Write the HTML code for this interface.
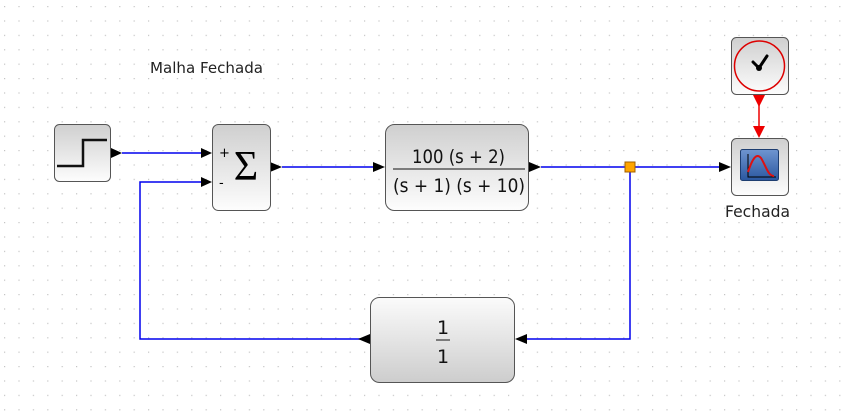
<!DOCTYPE html>
<html><head><meta charset="utf-8"><style>
html,body{margin:0;padding:0;background:#fff;}
svg{display:block;font-family:"DejaVu Sans","Liberation Sans",sans-serif;}
</style></head><body>
<svg width="845" height="414" viewBox="0 0 845 414">
<defs>
<pattern id="grid" width="14.4" height="14.4" patternUnits="userSpaceOnUse" x="4" y="6"><rect x="0" y="0" width="1.2" height="1.2" fill="#c4c4c4"/></pattern>
<linearGradient id="gDown" x1="0" y1="0" x2="0" y2="1"><stop offset="0" stop-color="#cfcfcf"/><stop offset="1" stop-color="#fdfdfd"/></linearGradient>
<linearGradient id="gUp" x1="0" y1="0" x2="0" y2="1"><stop offset="0" stop-color="#fbfbfb"/><stop offset="1" stop-color="#cdcdcd"/></linearGradient>
<linearGradient id="scr" x1="0" y1="0" x2="0" y2="1"><stop offset="0" stop-color="#6f95d0"/><stop offset="1" stop-color="#2a57a0"/></linearGradient>
</defs>
<rect width="845" height="414" fill="url(#grid)"/>

<text x="150" y="73" font-size="15" textLength="113" lengthAdjust="spacingAndGlyphs" fill="#222">Malha Fechada</text>

<g stroke="#0000ee" stroke-width="1.5" fill="none">
<path d="M122 153 H202"/>
<path d="M370 339 H140 V182 H202"/>
<path d="M282 167 H375"/>
<path d="M541 167 H721"/>
<path d="M630 167 V339 H525"/>
</g>
<path d="M759 95 V130" stroke="#ee0000" stroke-width="1.5"/>
<rect x="625" y="162" width="10" height="10" fill="#ffa500" stroke="#a06000" stroke-width="1"/>

<g fill="#000">
<path d="M111 148 L122 153 L111 158 Z"/>
<path d="M201 148 L212 153 L201 158 Z"/>
<path d="M201 177 L212 182 L201 187 Z"/>
<path d="M270 162 L282 167 L270 172 Z"/>
<path d="M373 162 L385 167 L373 172 Z"/>
<path d="M529 162 L541 167 L529 172 Z"/>
<path d="M719 162 L731 167 L719 172 Z"/>
<path d="M527 334 L515 339 L527 344 Z"/>
<path d="M370 334 L358 339 L370 344 Z"/>
</g>
<path d="M753 95 L765 95 L759 107 Z" fill="#ee0000"/>
<path d="M753 126 L765 126 L759 138 Z" fill="#ee0000"/>

<g>
<rect x="54.5" y="124.5" width="56" height="57" rx="5" fill="url(#gDown)" stroke="#555"/>
<path d="M57 166 H83 V140 H107" stroke="#111" stroke-width="2.5" fill="none"/>
</g>

<g>
<rect x="212.5" y="124.5" width="58" height="86" rx="6" fill="url(#gDown)" stroke="#555"/>
<text x="219" y="157" font-size="13" fill="#000">+</text>
<text x="219" y="187" font-size="13" fill="#000">-</text>
<text x="246" y="180" text-anchor="middle" font-size="42" font-family="'Liberation Serif',serif" fill="#000">Σ</text>
</g>

<g>
<rect x="385.5" y="124.5" width="143" height="86" rx="9" fill="url(#gDown)" stroke="#555"/>
<text x="412" y="163" font-size="19" textLength="93" lengthAdjust="spacingAndGlyphs" fill="#111">100 (s + 2)</text>
<line x1="393" y1="169" x2="525" y2="169" stroke="#111" stroke-width="1"/>
<text x="393" y="192" font-size="19" textLength="132" lengthAdjust="spacingAndGlyphs" fill="#111">(s + 1) (s + 10)</text>
</g>

<g>
<rect x="370.5" y="297.5" width="144" height="85" rx="9" fill="url(#gUp)" stroke="#555"/>
<text x="443" y="334" text-anchor="middle" font-size="19" fill="#111">1</text>
<line x1="436" y1="340" x2="450" y2="340" stroke="#111" stroke-width="1"/>
<text x="443" y="363" text-anchor="middle" font-size="19" fill="#111">1</text>
</g>

<g>
<rect x="731.5" y="37.5" width="57" height="57" rx="5" fill="url(#gDown)" stroke="#555"/>
<circle cx="759.5" cy="66" r="25" fill="none" stroke="#dd0000" stroke-width="1.5"/>
<path d="M753 62 L759 68 L767 56" stroke="#000" stroke-width="3" fill="none" stroke-linecap="round" stroke-linejoin="round"/>
<circle cx="759" cy="68" r="3" fill="#000"/>
</g>

<g>
<rect x="731.5" y="138.5" width="57" height="57" rx="5" fill="url(#gDown)" stroke="#555"/>
<rect x="740.5" y="149.5" width="38" height="31" rx="2" fill="url(#scr)" stroke="#1d3d70"/>
<path d="M748 154 V177 H776" stroke="#000" stroke-width="1" fill="none"/>
<path d="M748 172 C752 160, 756 152, 761 158 C766 166, 768 176, 774 176" stroke="#dd1111" stroke-width="2" fill="none"/>
</g>
<text x="725" y="217" font-size="16" textLength="65" lengthAdjust="spacingAndGlyphs" fill="#222">Fechada</text>
</svg>
</body></html>
